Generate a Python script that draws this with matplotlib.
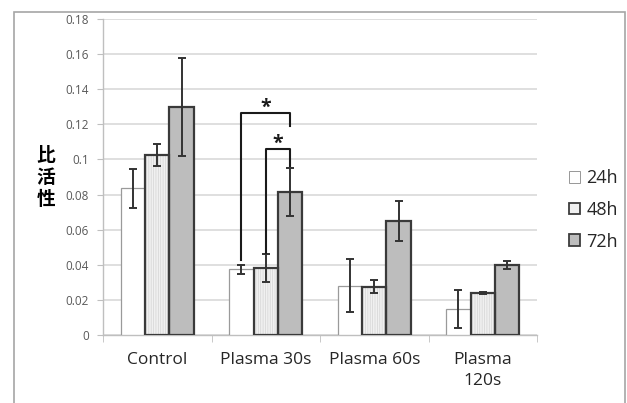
import numpy as np
import matplotlib.pyplot as plt
from matplotlib.patches import Rectangle

plt.rcParams['font.family'] = ['Open Sans', 'Noto Sans CJK JP', 'DejaVu Sans']
plt.rcParams['hatch.linewidth'] = 0.5

groups = ['Control', 'Plasma 30s', 'Plasma 60s', 'Plasma\n120s']
series = ['24h', '48h', '72h']
v24 = [0.0836, 0.0374, 0.0281, 0.0148]
v48 = [0.1025, 0.0383, 0.0275, 0.0239]
v72 = [0.1300, 0.0816, 0.0649, 0.0397]
e24 = [0.011, 0.0025, 0.015, 0.011]
e48 = [0.0065, 0.008, 0.0037, 0.0005]
e72 = [0.028, 0.0138, 0.0115, 0.0022]

fig = plt.figure(figsize=(6.27, 4.03), dpi=100)
# outer chart frame
fig.patches.append(Rectangle((14 / 627, -0.05), 611 / 627, 1.05 - 12 / 403,
                             transform=fig.transFigure, fill=False,
                             edgecolor='#a6a6a6', linewidth=1.2))
ax = fig.add_axes([103 / 627, 1 - 335 / 403, 434 / 627, 316 / 403])

x = np.arange(len(groups))
w = 0.225
faces = ['white', '#f0f0f0', '#bdbdbd']
edges = ['#9a9a9a', '#3a3a3a', '#3a3a3a']
lws = [0.9, 1.6, 1.6]
vals = [v24, v48, v72]
errs = [e24, e48, e72]
handles = []
for i in range(3):
    xi = x + (i - 1) * w
    if i == 1:
        # fine dotted texture inside the 48h bars
        ax.bar(xi, vals[i], w, facecolor=faces[i], edgecolor='#d4d4d4',
               linewidth=0, hatch='|||||||', zorder=3)
        ax.bar(xi, vals[i], w, fill=False, edgecolor=edges[i],
               linewidth=lws[i], zorder=3.1)
    else:
        ax.bar(xi, vals[i], w, facecolor=faces[i], edgecolor=edges[i],
               linewidth=lws[i], zorder=3)
    ax.errorbar(xi, vals[i], yerr=errs[i], fmt='none', ecolor='#333333',
                elinewidth=1.4, capsize=3, capthick=1.4, zorder=4)
    handles.append(Rectangle((0, 0), 1, 1, facecolor=faces[i], edgecolor=edges[i],
                             linewidth=lws[i] * 0.8))

# significance brackets for Plasma 30s
k = 1
lc = '#1a1a1a'
ax.plot([k - w, k - w, k + w, k + w], [0.0427, 0.1266, 0.1266, 0.119],
        color=lc, lw=1.5, zorder=5)
ax.text(k, 0.1295, '*', ha='center', va='center', fontsize=14, color=lc, fontweight='bold')
ax.plot([k, k, k + w, k + w], [0.0467, 0.106, 0.106, 0.0965],
        color=lc, lw=1.5, zorder=5)
ax.text(k + w / 2, 0.109, '*', ha='center', va='center', fontsize=14, color=lc, fontweight='bold')

ax.set_xlim(-0.5, 3.5)
ax.set_ylim(0, 0.18)
yt = np.arange(0, 0.181, 0.02)
ax.set_yticks(yt)
ax.set_yticklabels(['0'] + ['%g' % t for t in yt[1:]], fontsize=8.5, color='#595959')
ax.set_xticks(x)
ax.set_xticklabels(groups, fontsize=12.5, color='#262626', linespacing=1.45)
ax.set_xticks(np.arange(-0.5, 3.6, 1), minor=True)
ax.tick_params(axis='x', which='major', length=0, pad=12)
ax.tick_params(axis='x', which='minor', length=5, color='#bfbfbf')
ax.tick_params(axis='y', length=4, color='#bfbfbf', pad=6)
ax.yaxis.grid(True, color='#d9d9d9', linewidth=1.2, zorder=0)
ax.set_axisbelow(True)
for s in ['top', 'right']:
    ax.spines[s].set_visible(False)
for s in ['left', 'bottom']:
    ax.spines[s].set_color('#bfbfbf')
    ax.spines[s].set_linewidth(1.0)

fig.text(46 / 627, 1 - 178 / 403, '比\n活\n性', ha='center', va='center',
         fontsize=13.5, fontweight='bold', linespacing=1.2,
         family=['Noto Sans CJK JP', 'DejaVu Sans'])

fig.legend(handles=handles, labels=series, loc='center left',
           bbox_to_anchor=(553 / 627, 1 - 210 / 403), frameon=False,
           fontsize=13, handlelength=0.6, handleheight=0.6,
           handletextpad=0.35, labelspacing=0.75, labelcolor='#262626')

fig.savefig('out.png', dpi=100)
